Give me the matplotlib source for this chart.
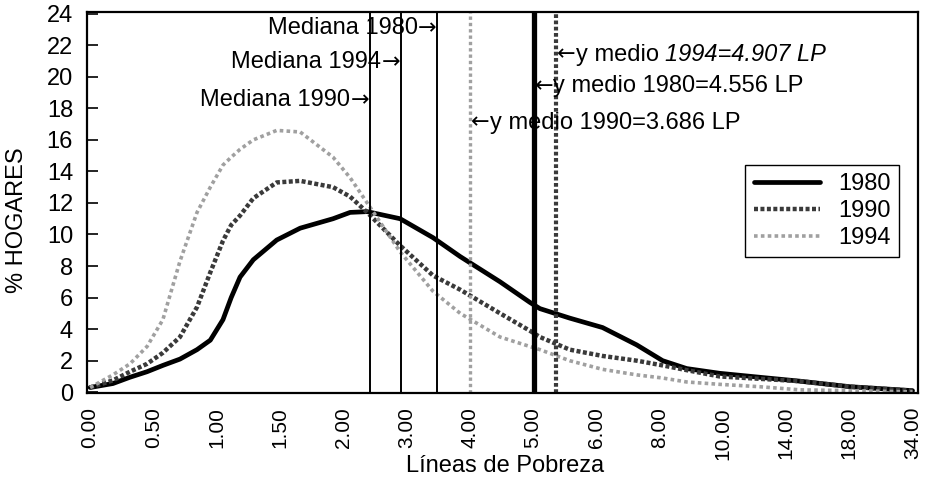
import matplotlib
matplotlib.use('Agg')
import matplotlib.pyplot as plt

plt.rcParams['font.family'] = ['Liberation Sans', 'DejaVu Sans']

# ---- data ----
tick_labels = ['0.00', '0.50', '1.00', '1.50', '2.00', '3.00', '4.00', '5.00',
               '6.00', '8.00', '10.00', '14.00', '18.00', '34.00']
# positions along the category axis (tick index units)
x_pos = [0, 0.36, 0.63, 0.9, 1.15, 1.42, 1.69, 1.9, 2.1, 2.23, 2.37, 2.58, 2.95,
         3.32, 3.84, 4.11, 4.38, 4.9, 5.42, 5.85, 6.48, 6.95, 7.11, 7.58, 8.1,
         8.64, 9.05, 9.43, 9.95, 10.58, 11.22, 12.01, 13.0]
h1980 = [0.3, 0.55, 0.95, 1.3, 1.7, 2.1, 2.7, 3.3, 4.6, 6.0, 7.3, 8.4, 9.65,
         10.4, 11.0, 11.4, 11.45, 11.0, 9.8, 8.6, 7.0, 5.7, 5.3, 4.7, 4.1,
         3.0, 2.0, 1.5, 1.2, 0.95, 0.7, 0.35, 0.1]
h1990 = [0.3, 0.75, 1.3, 1.8, 2.5, 3.5, 5.4, 7.6, 9.6, 10.6, 11.2, 12.3, 13.3,
         13.4, 13.0, 12.4, 11.4, 9.3, 7.4, 6.5, 5.0, 3.9, 3.5, 2.7, 2.3,
         2.0, 1.7, 1.4, 1.0, 0.85, 0.7, 0.35, 0.1]
h1994 = [0.3, 1.1, 1.8, 2.9, 4.6, 8.3, 11.4, 13.0, 14.4, 14.9, 15.4, 16.0, 16.6,
         16.5, 14.9, 13.6, 12.0, 8.9, 6.4, 5.0, 3.5, 2.9, 2.7, 2.0, 1.45,
         1.1, 0.9, 0.65, 0.5, 0.35, 0.15, 0.1, 0.02]

median_years = ['1980', '1994', '1990']
median_pos = [5.48, 4.91, 4.42]
median_text_y = [23.1, 20.95, 18.5]

mean_years = ['1994', '1980', '1990']
mean_pos = [7.36, 7.01, 6.00]
mean_values = ['4.907', '4.556', '3.686']
mean_text_y = [21.4, 19.4, 17.1]

# ---- styles ----
style = {
    '1980': dict(color='black', lw=3.4, ls='-'),
    '1990': dict(color='#3a3a3a', lw=3.2, ls=(0, (0.9, 0.55))),
    '1994': dict(color='#a0a0a0', lw=2.6, ls=(0, (1.0, 0.9))),
}
mean_style = {
    '1994': dict(color='#3a3a3a', lw=3.0, ls=(0, (0.9, 0.6))),
    '1980': dict(color='black', lw=3.8, ls='-'),
    '1990': dict(color='#a0a0a0', lw=2.4, ls=(0, (1.0, 0.9))),
}

fig = plt.figure(figsize=(9.25, 4.84), dpi=100)
ax = fig.add_axes([0.094, 0.188, 0.898, 0.787])

fs = 17
arrow_font = ['DejaVu Sans']

for yr, vals in (('1980', h1980), ('1990', h1990), ('1994', h1994)):
    ax.plot(x_pos, vals, label=yr, solid_capstyle='round',
            solid_joinstyle='round', **style[yr])

for yr, xp in zip(median_years, median_pos):
    ax.axvline(xp, color='black', lw=1.4)
for yr, xp in zip(mean_years, mean_pos):
    ax.axvline(xp, **mean_style[yr])

for yr, xp, ty in zip(median_years, median_pos, median_text_y):
    arr = ax.text(xp - 0.01, ty, '\u2192', ha='right', va='center', fontsize=fs - 1,
                  family=arrow_font)
    ax.annotate(f'Mediana {yr}', xy=(0, 0.5), xycoords=arr, ha='right',
                va='center', fontsize=fs)

for yr, xp, val, ty in zip(mean_years, mean_pos, mean_values, mean_text_y):
    arr = ax.text(xp + 0.02, ty, '\u2190', ha='left', va='center', fontsize=fs - 1,
                  family=arrow_font)
    if yr == '1994':
        t1 = ax.annotate('y medio', xy=(1, 0.5), xycoords=arr, ha='left',
                         va='center', fontsize=fs)
        ax.annotate(f'{yr}={val} LP', xy=(1, 0.5), xycoords=t1,
                    xytext=(4.5, 0), textcoords='offset points',
                    ha='left', va='center', fontsize=fs, style='italic')
    else:
        ax.annotate(f'y medio {yr}={val} LP', xy=(1, 0.5), xycoords=arr,
                    ha='left', va='center', fontsize=fs)

ax.set_xlim(-0.05, 13.08)
ax.set_ylim(-0.05, 24.1)
ax.set_xticks(range(len(tick_labels)))
ax.set_xticklabels(tick_labels, rotation=90, fontsize=15)
ax.set_yticks(range(0, 25, 2))
ax.tick_params(axis='y', direction='in', length=8, width=1.2, pad=10, labelsize=fs)
ax.tick_params(axis='x', length=0, pad=10)

for s in ax.spines.values():
    s.set_linewidth(1.6)
    s.set_color('black')

ax.set_xlabel('Líneas de Pobreza', fontsize=fs)
ax.xaxis.set_label_coords(0.503, -0.163)
ax.set_ylabel('% HOGARES', fontsize=fs)
ax.yaxis.set_label_coords(-0.071, 0.454)

leg = ax.legend(loc='upper right', bbox_to_anchor=(0.978, 0.598), fontsize=fs,
                frameon=True, fancybox=False, edgecolor='black', framealpha=1,
                handlelength=2.8, borderpad=0.35, labelspacing=0.2,
                handletextpad=0.8, borderaxespad=0)
leg.get_frame().set_linewidth(1.0)

fig.savefig('out.png', dpi=100)
